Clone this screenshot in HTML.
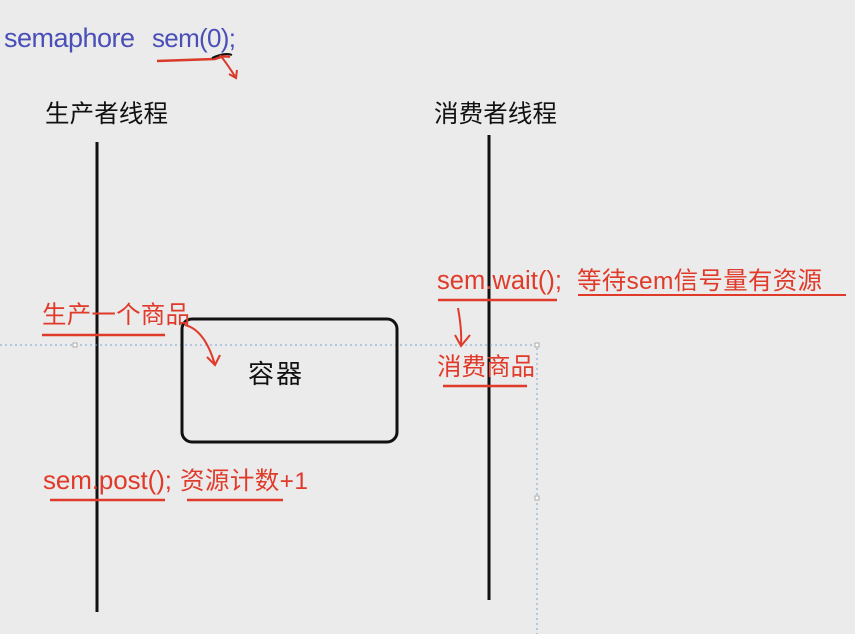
<!DOCTYPE html>
<html><head><meta charset="utf-8"><style>
html,body{margin:0;padding:0;background:#ebebeb;}
svg{display:block}
text{font-family:"Liberation Sans","Noto Sans CJK SC",sans-serif;}
</style></head><body>
<svg width="855" height="634" viewBox="0 0 855 634">
<rect width="855" height="634" fill="#ebebeb"/>
<text x="4" y="47" font-size="27" fill="#4a4fb8" textLength="131">semaphore</text>
<text x="152" y="47" font-size="26" fill="#4a4fb8" textLength="84">sem(0);</text>
<path d="M157 61 L215 59 Q225 55 230 57" stroke="#d93a2a" stroke-width="2.5" fill="none"/>
<path d="M212 58 Q225 52 232 55" stroke="#111" stroke-width="2" fill="none"/>
<path d="M220 55 Q228 65 236 78 M229 74 L236 78 L237 70" stroke="#d93a2a" stroke-width="2" fill="none"/>
<text x="45" y="122" font-size="24.5" fill="#111" textLength="123">生产者线程</text>
<text x="434" y="122" font-size="24.5" fill="#111" textLength="123">消费者线程</text>
<line x1="97" y1="142" x2="97" y2="612" stroke="#111" stroke-width="3"/>
<line x1="489" y1="135" x2="489" y2="600" stroke="#111" stroke-width="3"/>
<path d="M0 345 H537 V634" stroke="#7aa6d6" stroke-width="1" stroke-dasharray="2,3" fill="none"/>
<rect x="73" y="343" width="4" height="4" fill="#fff" stroke="#999" stroke-width="0.8"/>
<rect x="535" y="343" width="4" height="4" fill="#fff" stroke="#999" stroke-width="0.8"/>
<rect x="535" y="496" width="4" height="4" fill="#fff" stroke="#999" stroke-width="0.8"/>
<rect x="182" y="319" width="215" height="123" rx="10" fill="none" stroke="#111" stroke-width="3"/>
<text x="248" y="383" font-size="26" fill="#111" textLength="54">容器</text>
<text x="42" y="323" font-size="24.5" fill="#e03a2a" textLength="148">生产一个商品</text>
<path d="M42 335 H165" stroke="#e03a2a" stroke-width="2.5"/>
<path d="M185 325 Q205 330 215 365 M207 357 L215 365 L220 355" stroke="#e03a2a" stroke-width="2" fill="none"/>
<text x="437" y="289" font-size="25.5" fill="#e03a2a" textLength="125">sem.wait();</text>
<text x="577" y="289" font-size="24.5" fill="#e03a2a" textLength="245">等待sem信号量有资源</text>
<path d="M438 300 H557" stroke="#e03a2a" stroke-width="2.5"/>
<path d="M578 295 H846" stroke="#e03a2a" stroke-width="2"/>
<path d="M458 308 Q462 330 461 345 M455 335 L461 346 L470 335" stroke="#e03a2a" stroke-width="2" fill="none"/>
<text x="437" y="375" font-size="24.5" fill="#e03a2a" textLength="98">消费商品</text>
<path d="M443 386 H527" stroke="#e03a2a" stroke-width="2.5"/>
<text x="43" y="489" font-size="26" fill="#e03a2a" textLength="129">sem.post();</text>
<text x="180" y="489" font-size="24.5" fill="#e03a2a" textLength="128">资源计数+1</text>
<path d="M50 500 H165" stroke="#e03a2a" stroke-width="2.5"/>
<path d="M187 500 H283" stroke="#e03a2a" stroke-width="2.5"/>
</svg>
</body></html>
